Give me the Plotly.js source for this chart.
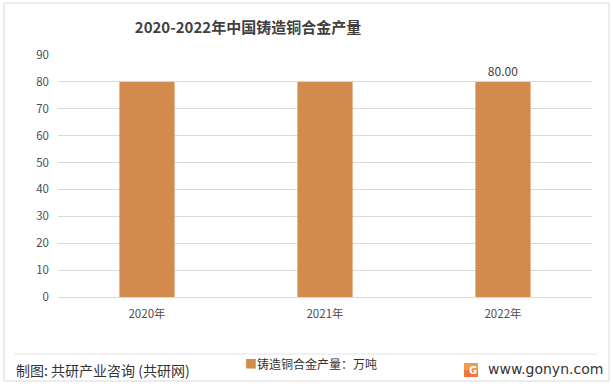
<!DOCTYPE html>
<html>
<head>
<meta charset="utf-8">
<script src="https://cdn.plot.ly/plotly-3.0.1.min.js"></script>
<style>html,body{margin:0;padding:0;background:#fff;}#chart{width:613px;height:390px;}</style>
</head>
<body>
<div id="chart"></div>
<script>
const categories = ['2020年', '2021年', '2022年'];
const values = [80, 80, 80];
const labels = ['', '', '80.00'];
const yTicks = [0, 10, 20, 30, 40, 50, 60, 70, 80, 90];
const titleText = '2020-2022年中国铸造铜合金产量';
const seriesName = '铸造铜合金产量：万吨';
const sourceText = '制图: 共研产业咨询 (共研网)';
const siteText = 'www.gonyn.com';

const font = '"Noto Sans CJK SC", "Noto Sans", sans-serif';
const barColor = '#D38B4D';

const trace = {
  type: 'bar',
  x: categories,
  y: values,
  text: labels,
  textposition: 'outside',
  cliponaxis: false,
  textfont: {family: font, size: 12, color: '#404040'},
  marker: {color: barColor},
  width: 0.31,
  name: seriesName,
  showlegend: false,
  hoverinfo: 'none'
};

const layout = {
  width: 613, height: 390,
  margin: {l: 58, r: 21, t: 55, b: 93},
  paper_bgcolor: '#fff', plot_bgcolor: '#fff',
  font: {family: font, color: '#595959'},
  title: {text: '<b>' + titleText + '</b>', font: {family: font, size: 15, color: '#404040'}, x: 248/613, xanchor: 'center', y: 1 - 28/390, yanchor: 'middle'},
  xaxis: {type: 'category', showgrid: false, showline: false, ticks: '', ticklabelstandoff: 8, tickfont: {family: font, size: 11.5, color: '#4d4d4d'}, fixedrange: true},
  yaxis: {range: [0, 90], tickvals: yTicks, showgrid: true, gridcolor: '#d9d9d9', gridwidth: 1, zeroline: true, zerolinecolor: '#d9d9d9', showline: false, ticks: '', ticklabelstandoff: 8, tickfont: {family: font, size: 11.5, color: '#4d4d4d'}, fixedrange: true},
  shapes: [
    {type: 'rect', xref: 'paper', yref: 'paper', x0: -54/534, x1: 551/534, y0: (297-381)/242, y1: (297-3)/242, line: {color: '#d9d9d9', width: 1}, fillcolor: 'rgba(0,0,0,0)'},
    {type: 'line', xref: 'paper', yref: 'paper', x0: -44/534, x1: 539/534, y0: (297-354)/242, y1: (297-354)/242, line: {color: '#e3e3e3', width: 1}},
    {type: 'rect', xref: 'paper', yref: 'paper', x0: (464-58)/534, x1: (478-58)/534, y0: (297-377)/242, y1: (297-363)/242, line: {width: 0}, fillcolor: '#F39A4A'},
    {type: 'rect', xref: 'paper', yref: 'paper', x0: (464-58)/534, x1: (478-58)/534, y0: (297-377)/242, y1: (297-370)/242, line: {width: 0}, fillcolor: '#F2763E'}
  ],
  annotations: [
    {xref: 'paper', yref: 'paper', x: (14-58)/534, y: (297-370)/242, xanchor: 'left', yanchor: 'middle', showarrow: false, text: sourceText, font: {family: font, size: 14, color: '#333'}},
    {xref: 'paper', yref: 'paper', x: (243-58)/534, y: (297-363)/242, xanchor: 'left', yanchor: 'middle', showarrow: false, text: '<span style="color:' + barColor + '">■</span>' + seriesName, font: {family: font, size: 12, color: '#333'}},
    {xref: 'paper', yref: 'paper', x: (467-58)/534, y: (297-370)/242, xanchor: 'left', yanchor: 'middle', showarrow: false, text: '<b>G</b>', font: {family: 'DejaVu Sans', size: 10, color: '#fff'}},
    {xref: 'paper', yref: 'paper', x: (486-58)/534, y: (297-369)/242, xanchor: 'left', yanchor: 'middle', showarrow: false, text: siteText, font: {family: '"DejaVu Sans", sans-serif', size: 14, color: '#333'}}
  ]
};

Plotly.newPlot('chart', [trace], layout, {displayModeBar: false, staticPlot: true});
</script>
</body>
</html>
